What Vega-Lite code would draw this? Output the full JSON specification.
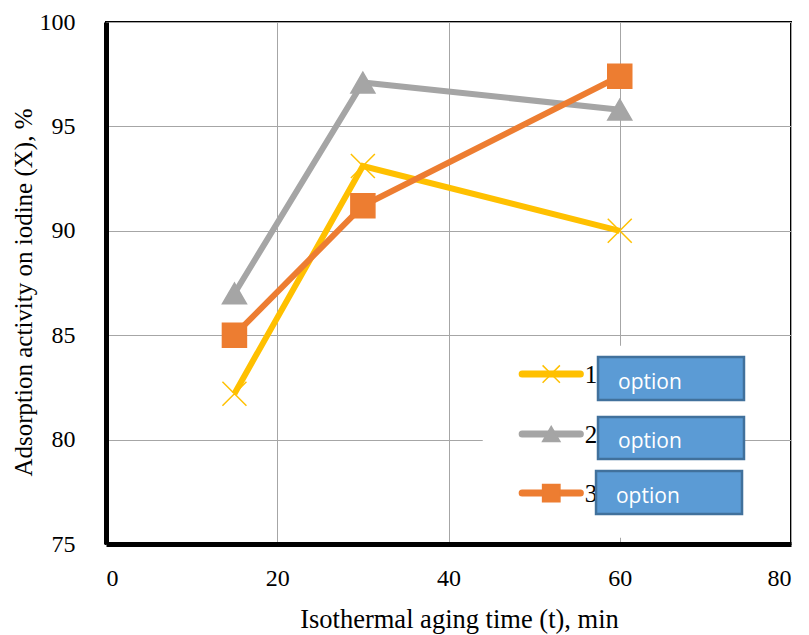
{
  "$schema": "https://vega.github.io/schema/vega-lite/v6.json",
  "width": 685,
  "height": 522,
  "autosize": "none",
  "padding": {"left": 106, "top": 22, "right": 18, "bottom": 91},
  "background": "white",
  "config": {
    "view": {"stroke": "black", "strokeWidth": 2},
    "axis": {
      "labelFont": "Liberation Serif", "titleFont": "Liberation Serif", "labelFontSize": 24, "titleFontWeight": "normal",
      "labelColor": "black", "titleColor": "black", "domainColor": "black", "domainWidth": 5,
      "gridColor": "#A6A6A6", "gridWidth": 1, "ticks": false
    }
  },
  "datasets": {
    "series": [
      {"t": 15, "X": 82.2, "series": "1"},
      {"t": 30, "X": 93.1, "series": "1"},
      {"t": 60, "X": 90.0, "series": "1"},
      {"t": 15, "X": 87.0, "series": "2"},
      {"t": 30, "X": 97.1, "series": "2"},
      {"t": 60, "X": 95.8, "series": "2"},
      {"t": 15, "X": 85.0, "series": "3"},
      {"t": 30, "X": 91.2, "series": "3"},
      {"t": 60, "X": 97.4, "series": "3"}
    ],
    "legend": [
      {"series": "1", "lx": 48.6, "lx2": 55.4, "mx": 52.0, "ly": 83.14, "tx": 55.9, "bx": 57.46, "bx2": 74.51, "by": 83.96, "by2": 81.9, "ox": 59.8, "oy": 82.71, "label": "option"},
      {"series": "2", "lx": 48.6, "lx2": 55.4, "mx": 52.0, "ly": 80.27, "tx": 55.9, "bx": 57.46, "bx2": 74.51, "by": 81.08, "by2": 79.07, "ox": 59.8, "oy": 79.89, "label": "option"},
      {"series": "3", "lx": 48.6, "lx2": 55.4, "mx": 52.0, "ly": 77.44, "tx": 55.9, "bx": 57.23, "bx2": 74.28, "by": 78.5, "by2": 76.44, "ox": 59.56, "oy": 77.25, "label": "option"}
    ],
    "legendbg": [
      {"x": 44.0, "x2": 74.4, "y": 84.5, "y2": 75.3}
    ]
  },
  "layer": [
    {
      "data": {"name": "series"},
      "mark": {"type": "line", "strokeWidth": 6, "strokeJoin": "miter"},
      "encoding": {
        "x": {"field": "t", "type": "quantitative", "scale": {"domain": [0, 80], "nice": false},
          "axis": {"values": [0, 20, 40, 60, 80], "title": "Isothermal aging time (t), min", "titleFontSize": 26.5, "labelPadding": 22, "titlePadding": 16, "titleX": 353}},
        "y": {"field": "X", "type": "quantitative", "scale": {"domain": [75, 100], "nice": false, "zero": false},
          "axis": {"values": [75, 80, 85, 90, 95, 100], "title": "Adsorption activity on iodine (X), %", "titleFontSize": 25, "labelPadding": 31, "titlePadding": 3, "titleY": 270}},
        "color": {"field": "series", "type": "nominal", "scale": {"domain": ["1", "2", "3"], "range": ["#FFC000", "#A5A5A5", "#ED7D31"]}, "legend": null}
      }
    },
    {
      "data": {"name": "series"},
      "mark": {"type": "point", "filled": true, "opacity": 1, "strokeWidth": 1.5, "size": 576},
      "encoding": {
        "x": {"field": "t", "type": "quantitative"},
        "y": {"field": "X", "type": "quantitative"},
        "fill": {"field": "series", "type": "nominal", "scale": {"domain": ["1", "2", "3"], "range": ["#FFC000", "#A5A5A5", "#ED7D31"]}, "legend": null},
        "stroke": {"field": "series", "type": "nominal", "scale": {"domain": ["1", "2", "3"], "range": ["#FFC000", "#A5A5A5", "#ED7D31"]}, "legend": null},
        "shape": {"field": "series", "type": "nominal", "scale": {"domain": ["1", "2", "3"], "range": ["M-1,-1L1,1M-1,1L1,-1", "triangle-up", "square"]}, "legend": null}
      }
    },
    {
      "data": {"name": "legendbg"},
      "mark": {"type": "rect", "fill": "white", "stroke": null},
      "encoding": {
        "x": {"field": "x", "type": "quantitative"},
        "x2": {"field": "x2"},
        "y": {"field": "y", "type": "quantitative"},
        "y2": {"field": "y2"}
      }
    },
    {
      "data": {"name": "legend"},
      "mark": {"type": "rule", "strokeWidth": 7, "strokeCap": "round"},
      "encoding": {
        "x": {"field": "lx", "type": "quantitative"},
        "x2": {"field": "lx2"},
        "y": {"field": "ly", "type": "quantitative"},
        "color": {"field": "series", "type": "nominal", "legend": null}
      }
    },
    {
      "data": {"name": "legend"},
      "mark": {"type": "point", "filled": true, "opacity": 1, "strokeWidth": 1.5, "size": 300},
      "encoding": {
        "x": {"field": "mx", "type": "quantitative"},
        "y": {"field": "ly", "type": "quantitative"},
        "fill": {"field": "series", "type": "nominal", "legend": null},
        "stroke": {"field": "series", "type": "nominal", "legend": null},
        "shape": {"field": "series", "type": "nominal", "legend": null}
      }
    },
    {
      "data": {"name": "legend"},
      "mark": {"type": "text", "font": "Liberation Serif", "fontSize": 25, "align": "left", "baseline": "middle", "color": "black", "dy": 1},
      "encoding": {
        "x": {"field": "tx", "type": "quantitative"},
        "y": {"field": "ly", "type": "quantitative"},
        "text": {"field": "series"}
      }
    },
    {
      "data": {"name": "legend"},
      "mark": {"type": "rect", "fill": "#5B9BD5", "stroke": "#41719C", "strokeWidth": 2.5},
      "encoding": {
        "x": {"field": "bx", "type": "quantitative"},
        "x2": {"field": "bx2"},
        "y": {"field": "by", "type": "quantitative"},
        "y2": {"field": "by2"}
      }
    },
    {
      "data": {"name": "legend"},
      "mark": {"type": "text", "font": "Open Sans", "fontSize": 21, "align": "left", "baseline": "middle", "color": "white"},
      "encoding": {
        "x": {"field": "ox", "type": "quantitative"},
        "y": {"field": "oy", "type": "quantitative"},
        "text": {"field": "label"}
      }
    }
  ]
}
